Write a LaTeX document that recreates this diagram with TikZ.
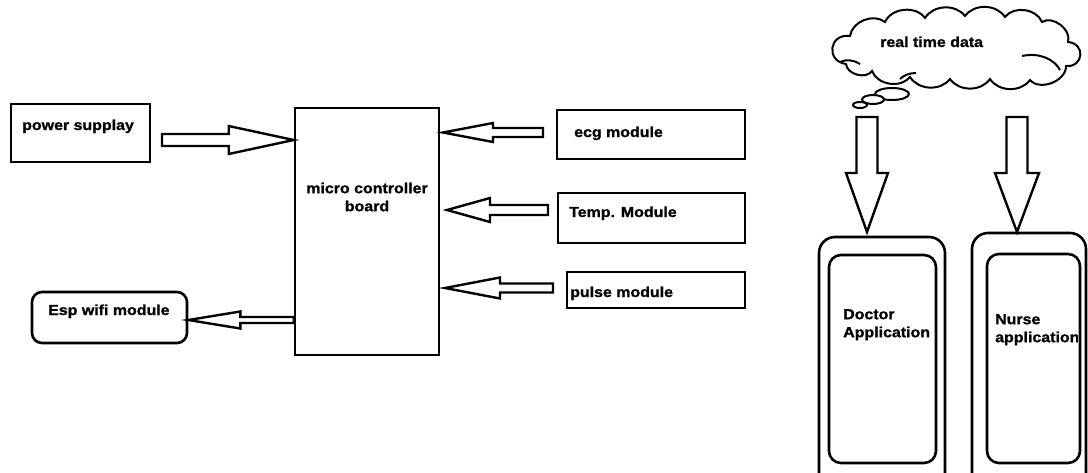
\documentclass[tikz,border=0pt]{standalone}
\usepackage{fontspec}
\setmainfont{Liberation Sans}[FakeStretch=1.1, FakeBold=1.2]
\usetikzlibrary{calc}
\tikzset{
  box/.style={draw, line width=2.6pt, rectangle, inner sep=0pt},
  rbox/.style={box, rounded corners=#1},
  lbl/.style={font=\fontsize{14.5}{18}\selectfont\bfseries, anchor=base west, inner sep=0pt},
  barrow/.style={draw, line width=2.4pt, line join=miter, fill=white},
  bubble/.style={draw, line width=2pt},
  cloudline/.style={draw, line width=2pt},
}
\newcommand\blockarrow[5]{%
  \coordinate (H) at ($(#2)!#5pt!(#1)$);
  \draw[barrow] ($(#1)!#3pt!90:(#2)$) -- ($(H)!#3pt!90:(#2)$) -- ($(H)!#4pt!90:(#2)$) -- (#2)
    -- ($(H)!#4pt!-90:(#2)$) -- ($(H)!#3pt!-90:(#2)$) -- ($(#1)!#3pt!-90:(#2)$) -- cycle;}
\begin{document}
\begin{tikzpicture}[x=1pt,y=-1pt]
\useasboundingbox (0,0) rectangle (1088,472);
\clip (0,0) rectangle (1088,472);
\fill[white] (0,0) rectangle (1088,472);
% boxes
\node[box, minimum width=139pt, minimum height=58pt] (power) at (80.5,133) {};
\node[lbl] at (22,130) {power supplay};
\node[box, minimum width=144pt, minimum height=247pt] (micro) at (367,231.5) {};
\node[font=\fontsize{14.5}{18}\selectfont\bfseries, align=center, inner sep=0pt] (microtxt) at (367,197) {micro controller\\board};
\node[rbox=10pt, minimum width=155pt, minimum height=51pt] (esp) at (109.5,317.5) {};
\node[lbl] at (48,315) {Esp wifi module};
\node[box, minimum width=188pt, minimum height=49pt] (ecg) at (651,134.5) {};
\node[lbl] at (574,137) {ecg module};
\node[box, minimum width=187pt, minimum height=50pt] (temp) at (651.5,218) {};
\node[lbl] at (569,217) {Temp. Module};
\node[box, minimum width=178pt, minimum height=36pt] (pulse) at (656,290) {};
\node[lbl] at (570,297) {pulse module};
% arrows
\coordinate (a1) at (162,140); \coordinate (a2) at (a1 -| micro.west);
\blockarrow{a1}{a2}{6}{14}{65}
\coordinate (b0) at (0,320); \coordinate (b1) at (b0 -| micro.west); \coordinate (b2) at (b0 -| esp.east);
\blockarrow{b1}{b2}{3}{8.5}{52}
\coordinate (c1) at (543,132.5); \coordinate (c2) at (443,132.5);
\blockarrow{c1}{c2}{4.5}{9.5}{50}
\coordinate (d1) at (548,210); \coordinate (d2) at (447,210);
\blockarrow{d1}{d2}{5}{12}{43}
\coordinate (e1) at (553,288); \coordinate (e2) at (445,288);
\blockarrow{e1}{e2}{4.5}{10.5}{55}
% cloud (drawn as puffs)
\draw[cloudline, fill=white] (850,36) to[bend left=60] (885,22) to[bend left=60] (925,18)
  to[bend left=55] (965,16) to[bend left=55] (1005,17) to[bend left=60] (1042,22)
  to[bend left=70] (1068,42) to[bend left=90, looseness=1.9] (1066,66)
  to[bend left=70] (1030,80) to[bend left=55] (990,79) to[bend left=55] (950,79)
  to[bend left=55] (910,77) to[bend left=60] (872,71) to[bend left=70] (846,64)
  to[bend left=90, looseness=1.9] cycle;
\draw[cloudline] (840,62) .. controls (846,59) and (854,60) .. (860,64);
\draw[cloudline] (1022,56) .. controls (1040,52) and (1055,60) .. (1060,70);
\draw[cloudline] (900,79) .. controls (904,75) and (910,73) .. (916,73);
\node[lbl] at (880,47) {real time data};
\draw[bubble, fill=white] (892,94) ellipse [x radius=17pt, y radius=6pt];
\draw[bubble, fill=white] (873,99.5) ellipse [x radius=11pt, y radius=4.5pt];
\draw[bubble, fill=white] (860,105) ellipse [x radius=7pt, y radius=3pt];
% down arrows
\coordinate (f1) at (867,117); \coordinate (f2) at (867,232);
\blockarrow{f1}{f2}{10.5}{21}{59}
\coordinate (g1) at (1017,117); \coordinate (g2) at (1017,232);
\blockarrow{g1}{g2}{10.5}{22}{59}
% phones
\node[rbox=16pt, minimum width=126pt, minimum height=263pt] (dout) at (882,368.5) {};
\node[rbox=12pt, minimum width=107pt, minimum height=208pt] (din) at (882.5,359) {};
\node[font=\fontsize{14.5}{18}\selectfont\bfseries, align=left, inner sep=0pt, anchor=north west] (dtxt) at (843,309) {Doctor\\Application};
\node[rbox=16pt, minimum width=114pt, minimum height=267pt] (nout) at (1029,366.5) {};
\node[rbox=12pt, minimum width=93pt, minimum height=209pt] (nin) at (1033.5,358.5) {};
\begin{scope}
\clip (nin.north west) rectangle ($(nin.south east)+(-3.5,0)$);
\node[font=\fontsize{14.5}{18}\selectfont\bfseries, align=left, inner sep=0pt, anchor=north west] (ntxt) at (995,314) {Nurse\\application};
\end{scope}
\end{tikzpicture}
\end{document}
